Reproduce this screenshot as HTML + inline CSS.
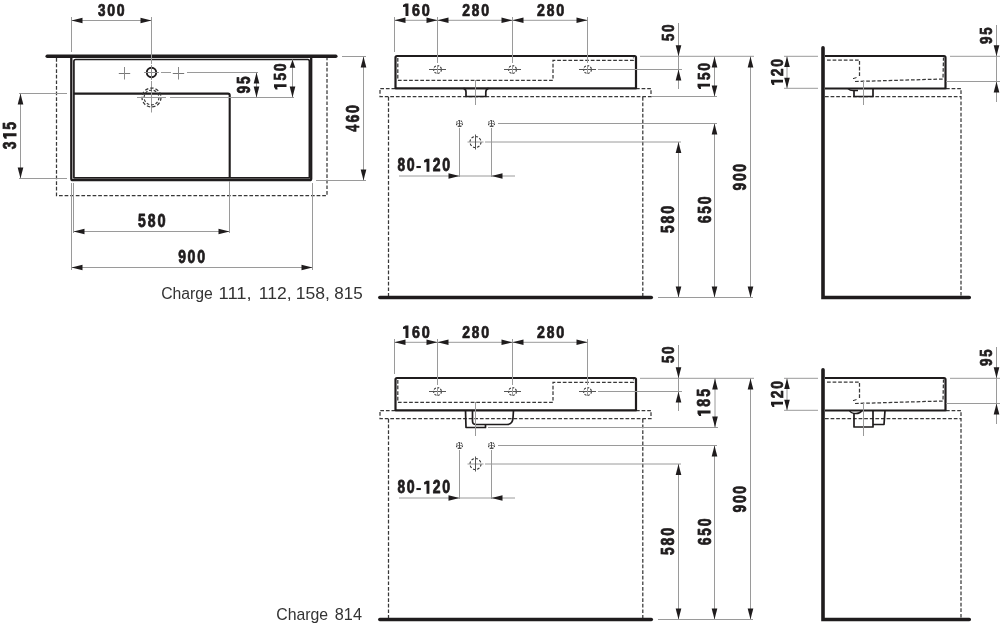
<!DOCTYPE html>
<html><head><meta charset="utf-8"><style>
html,body{margin:0;padding:0;background:#fff;}
body{width:1000px;height:632px;overflow:hidden;position:relative;}
svg{position:absolute;left:0;top:0;will-change:transform;}
.d{font-family:"Liberation Sans",sans-serif;font-weight:bold;font-size:18px;}
g.t{fill:#1f1c1d;}
.d{stroke:#1f1c1d;stroke-width:0.8px;stroke-linejoin:round;}
.c{font-family:"Liberation Sans",sans-serif;font-size:16px;fill:#333;}
</style></head><body>
<svg width="1000" height="632" viewBox="0 0 1000 632">
<path d="M56.5,58 L56.5,195.5 L327,195.5 L327,58" stroke="#383838" stroke-width="1.25" fill="none" stroke-linejoin="miter" stroke-linecap="butt" stroke-dasharray="3.7 1.9"/>
<line x1="47.2" y1="56.25" x2="335.8" y2="56.25" stroke="#1f1c1d" stroke-width="3.5" stroke-linecap="round"/>
<path d="M71.3,57 L71.3,178.8 Q71.3,180.2 72.8,180.2 L309.8,180.2 Q311.2,180.2 311.2,178.8 L311.2,57" stroke="#1f1c1d" stroke-width="2.3" fill="none" stroke-linejoin="round" stroke-linecap="butt"/>
<path d="M73.9,177.8 L73.9,61.3 Q73.9,59.5 75.7,59.5 L307.8,59.5 Q309.4,59.5 309.4,61.3 L309.4,177.8 Z" stroke="#1f1c1d" stroke-width="1.7" fill="none" stroke-linejoin="round" stroke-linecap="butt"/>
<path d="M73.9,93.6 L228,93.6 Q229.7,93.6 229.7,95.3 L229.7,177.8" stroke="#1f1c1d" stroke-width="2.1" fill="none" stroke-linejoin="round" stroke-linecap="butt"/>
<circle cx="151.5" cy="72.5" r="4.7" fill="none" stroke="#1f1c1d" stroke-width="1.9"/>
<line x1="144.2" y1="72.5" x2="158.8" y2="72.5" stroke="#888" stroke-width="1" stroke-linecap="butt"/>
<line x1="151.5" y1="65.2" x2="151.5" y2="79.8" stroke="#888" stroke-width="1" stroke-linecap="butt"/>
<line x1="118.8" y1="73.5" x2="130.2" y2="73.5" stroke="#777" stroke-width="1" stroke-linecap="butt"/>
<line x1="124.5" y1="67" x2="124.5" y2="79.5" stroke="#888" stroke-width="1" stroke-linecap="butt"/>
<line x1="172.8" y1="73.5" x2="184.2" y2="73.5" stroke="#777" stroke-width="1" stroke-linecap="butt"/>
<line x1="178.5" y1="67" x2="178.5" y2="79.5" stroke="#888" stroke-width="1" stroke-linecap="butt"/>
<line x1="161" y1="72.5" x2="171" y2="72.5" stroke="#9a9a9a" stroke-width="1" stroke-linecap="butt"/>
<line x1="187" y1="72.5" x2="258" y2="72.5" stroke="#9a9a9a" stroke-width="1" stroke-linecap="butt"/>
<line x1="151.5" y1="17" x2="151.5" y2="64" stroke="#9a9a9a" stroke-width="1" stroke-linecap="butt"/>
<line x1="151.5" y1="81" x2="151.5" y2="112.5" stroke="#9a9a9a" stroke-width="1" stroke-linecap="butt"/>
<circle cx="151.5" cy="97.5" r="9.5" fill="none" stroke="#383838" stroke-width="1.25" stroke-dasharray="3.4 2"/>
<circle cx="151.5" cy="97.5" r="7.4" fill="none" stroke="#383838" stroke-width="1.15" stroke-dasharray="2.8 1.8"/>
<line x1="137" y1="97.5" x2="166" y2="97.5" stroke="#9a9a9a" stroke-width="1" stroke-linecap="butt"/>
<line x1="170" y1="97.5" x2="294" y2="97.5" stroke="#9a9a9a" stroke-width="1" stroke-linecap="butt"/>
<line x1="71.5" y1="17" x2="71.5" y2="52" stroke="#9a9a9a" stroke-width="1" stroke-linecap="butt"/>
<line x1="71.5" y1="20.5" x2="151.5" y2="20.5" stroke="#9a9a9a" stroke-width="1" stroke-linecap="butt"/>
<polygon points="71.5,20.5 82.5,17.7 82.5,23.3" fill="#1f1c1d"/>
<polygon points="151.5,20.5 140.5,17.7 140.5,23.3" fill="#1f1c1d"/>
<g class="t" transform="matrix(0.9806 0 0 1 96.98 16)"><text transform="matrix(0.7629 0 0 0.9312 1.12 -0.48)" class="d">3</text><text transform="matrix(0.7982 0 0 0.9312 10.56 -0.48)" class="d">0</text><text transform="matrix(0.7982 0 0 0.9312 20.26 -0.48)" class="d">0</text></g>
<line x1="256.5" y1="72.5" x2="256.5" y2="97.5" stroke="#9a9a9a" stroke-width="1" stroke-linecap="butt"/>
<polygon points="256.5,72.5 253.7,83.5 259.3,83.5" fill="#1f1c1d"/>
<polygon points="256.5,97.5 253.7,86.5 259.3,86.5" fill="#1f1c1d"/>
<g class="t" transform="matrix(0 -0.9435 1 0 250.5 94.52)"><text transform="matrix(0.8184 0 0 0.971 0.96 -0.49)" class="d">9</text><text transform="matrix(0.797 0 0 0.971 11.12 -0.49)" class="d">5</text></g>
<line x1="292.5" y1="59.5" x2="292.5" y2="97.5" stroke="#9a9a9a" stroke-width="1" stroke-linecap="butt"/>
<polygon points="292.5,59.8 289.7,67.8 295.3,67.8" fill="#1f1c1d"/>
<polygon points="292.5,97.5 289.7,86.5 295.3,86.5" fill="#1f1c1d"/>
<g class="t" transform="matrix(0 -0.9862 1 0 286.5 91.18)"><polygon points="1.7,-10.93 4.2,-12.5 7.1,-12.5 7.1,0 4.2,0 4.2,-9.25 1.7,-8.96"/><text transform="matrix(0.7629 0 0 0.9312 10.71 -0.48)" class="d">5</text><text transform="matrix(0.7982 0 0 0.9312 20.26 -0.48)" class="d">0</text></g>
<line x1="342" y1="56.5" x2="366" y2="56.5" stroke="#9a9a9a" stroke-width="1" stroke-linecap="butt"/>
<line x1="316" y1="180.5" x2="366" y2="180.5" stroke="#9a9a9a" stroke-width="1" stroke-linecap="butt"/>
<line x1="363.5" y1="56.5" x2="363.5" y2="180.5" stroke="#9a9a9a" stroke-width="1" stroke-linecap="butt"/>
<polygon points="363.5,56.5 360.7,67.5 366.3,67.5" fill="#1f1c1d"/>
<polygon points="363.5,180.5 360.7,169.5 366.3,169.5" fill="#1f1c1d"/>
<g class="t" transform="matrix(0 -0.8916 1 0 359 132.82)"><text transform="matrix(0.7896 0 0 1.0347 1.33 -0.49)" class="d">4</text><text transform="matrix(0.8762 0 0 1.0347 11.67 -0.49)" class="d">6</text><text transform="matrix(0.891 0 0 1.0347 22.32 -0.49)" class="d">0</text></g>
<line x1="19" y1="93.5" x2="67" y2="93.5" stroke="#9a9a9a" stroke-width="1" stroke-linecap="butt"/>
<line x1="19" y1="178.5" x2="67" y2="178.5" stroke="#9a9a9a" stroke-width="1" stroke-linecap="butt"/>
<line x1="20.5" y1="93.5" x2="20.5" y2="178.5" stroke="#9a9a9a" stroke-width="1" stroke-linecap="butt"/>
<polygon points="20.5,93.5 17.7,104.5 23.3,104.5" fill="#1f1c1d"/>
<polygon points="20.5,178.5 17.7,167.5 23.3,167.5" fill="#1f1c1d"/>
<g class="t" transform="matrix(0 -0.9319 1 0 16.5 150.24)"><text transform="matrix(0.8311 0 0 1.0108 1.18 -0.49)" class="d">3</text><polygon points="12.31,-11.8 15.01,-13.5 18.14,-13.5 18.14,0 15.01,0 15.01,-9.99 12.31,-9.68"/><text transform="matrix(0.8311 0 0 1.0108 22.01 -0.49)" class="d">5</text></g>
<line x1="73.5" y1="183" x2="73.5" y2="233" stroke="#9a9a9a" stroke-width="1" stroke-linecap="butt"/>
<line x1="229.5" y1="181" x2="229.5" y2="233" stroke="#9a9a9a" stroke-width="1" stroke-linecap="butt"/>
<line x1="73.5" y1="231.5" x2="229.5" y2="231.5" stroke="#9a9a9a" stroke-width="1" stroke-linecap="butt"/>
<polygon points="73.5,231.5 84.5,228.7 84.5,234.3" fill="#1f1c1d"/>
<polygon points="229.5,231.5 218.5,228.7 218.5,234.3" fill="#1f1c1d"/>
<g class="t" transform="matrix(0.9713 0 0 1 136.95 227.3)"><text transform="matrix(0.797 0 0 0.971 1.03 -0.49)" class="d">5</text><text transform="matrix(0.8035 0 0 0.971 11.1 -0.49)" class="d">8</text><text transform="matrix(0.8339 0 0 0.971 21.05 -0.49)" class="d">0</text></g>
<line x1="71.5" y1="183" x2="71.5" y2="270" stroke="#9a9a9a" stroke-width="1" stroke-linecap="butt"/>
<line x1="312.5" y1="183" x2="312.5" y2="270" stroke="#9a9a9a" stroke-width="1" stroke-linecap="butt"/>
<line x1="71.5" y1="267.5" x2="312.5" y2="267.5" stroke="#9a9a9a" stroke-width="1" stroke-linecap="butt"/>
<polygon points="71.5,267.5 82.5,264.7 82.5,270.3" fill="#1f1c1d"/>
<polygon points="312.5,267.5 301.5,264.7 301.5,270.3" fill="#1f1c1d"/>
<g class="t" transform="matrix(0.9429 0 0 1 177.28 263.7)"><text transform="matrix(0.8184 0 0 0.971 0.96 -0.49)" class="d">9</text><text transform="matrix(0.8339 0 0 0.971 10.97 -0.49)" class="d">0</text><text transform="matrix(0.8339 0 0 0.971 21.05 -0.49)" class="d">0</text></g>
<g transform="translate(0,0)">
<path d="M388.5,96.5 L380,96.5 L380,88.5 L395,88.5" stroke="#383838" stroke-width="1.25" fill="none" stroke-linejoin="miter" stroke-linecap="butt" stroke-dasharray="3.7 1.9"/>
<path d="M636,88.5 L651,88.5 L651,96.5 L388.5,96.5" stroke="#383838" stroke-width="1.25" fill="none" stroke-linejoin="miter" stroke-linecap="butt" stroke-dasharray="3.7 1.9"/>
<line x1="388.5" y1="97" x2="388.5" y2="297" stroke="#383838" stroke-width="1.25" stroke-linecap="butt" stroke-dasharray="3.7 1.9"/>
<line x1="642.8" y1="97" x2="642.8" y2="297" stroke="#383838" stroke-width="1.25" stroke-linecap="butt" stroke-dasharray="3.7 1.9"/>
<line x1="379.8" y1="297.5" x2="651.3" y2="297.5" stroke="#1f1c1d" stroke-width="3.5" stroke-linecap="round"/>
<path d="M395.5,88.3 L395.5,57.5 Q395.5,56 397,56 L634.5,56 Q636,56 636,57.5 L636,88.3 Z" stroke="#1f1c1d" stroke-width="2.2" fill="none" stroke-linejoin="round" stroke-linecap="butt"/>
<path d="M397.8,58 L397.8,80.3 L553,80.3 L553,60.4 L633.5,60.4 L633.5,57.5" stroke="#383838" stroke-width="1.25" fill="none" stroke-linejoin="miter" stroke-linecap="butt" stroke-dasharray="3.7 1.9"/>
<circle cx="437.5" cy="69.5" r="3.9" fill="none" stroke="#333" stroke-width="1.1" stroke-dasharray="2.2 1.3"/>
<line x1="429" y1="69.5" x2="446" y2="69.5" stroke="#555" stroke-width="1" stroke-linecap="butt"/>
<line x1="437.5" y1="65" x2="437.5" y2="74" stroke="#9a9a9a" stroke-width="1" stroke-linecap="butt"/>
<circle cx="512.5" cy="69.5" r="3.9" fill="none" stroke="#333" stroke-width="1.1" stroke-dasharray="2.2 1.3"/>
<line x1="504" y1="69.5" x2="521" y2="69.5" stroke="#555" stroke-width="1" stroke-linecap="butt"/>
<line x1="512.5" y1="65" x2="512.5" y2="74" stroke="#9a9a9a" stroke-width="1" stroke-linecap="butt"/>
<circle cx="587.5" cy="69.5" r="3.9" fill="none" stroke="#333" stroke-width="1.1" stroke-dasharray="2.2 1.3"/>
<line x1="579" y1="69.5" x2="596" y2="69.5" stroke="#555" stroke-width="1" stroke-linecap="butt"/>
<line x1="587.5" y1="65" x2="587.5" y2="74" stroke="#9a9a9a" stroke-width="1" stroke-linecap="butt"/>
<line x1="394.5" y1="17" x2="394.5" y2="52" stroke="#9a9a9a" stroke-width="1" stroke-linecap="butt"/>
<line x1="437.5" y1="17" x2="437.5" y2="63" stroke="#9a9a9a" stroke-width="1" stroke-linecap="butt"/>
<line x1="512.5" y1="17" x2="512.5" y2="63" stroke="#9a9a9a" stroke-width="1" stroke-linecap="butt"/>
<line x1="587.5" y1="17" x2="587.5" y2="63" stroke="#9a9a9a" stroke-width="1" stroke-linecap="butt"/>
<line x1="394.5" y1="20.3" x2="587.5" y2="20.3" stroke="#9a9a9a" stroke-width="1" stroke-linecap="butt"/>
<polygon points="394.5,20.3 405.5,17.5 405.5,23.1" fill="#1f1c1d"/>
<polygon points="437.5,20.3 426.5,17.5 426.5,23.1" fill="#1f1c1d"/>
<polygon points="437.5,20.3 448.5,17.5 448.5,23.1" fill="#1f1c1d"/>
<polygon points="512.5,20.3 501.5,17.5 501.5,23.1" fill="#1f1c1d"/>
<polygon points="512.5,20.3 523.5,17.5 523.5,23.1" fill="#1f1c1d"/>
<polygon points="587.5,20.3 576.5,17.5 576.5,23.1" fill="#1f1c1d"/>
<g class="t" transform="matrix(1.0052 0 0 1 401.29 16)"><polygon points="1.7,-10.93 4.2,-12.5 7.1,-12.5 7.1,0 4.2,0 4.2,-9.25 1.7,-8.96"/><text transform="matrix(0.785 0 0 0.9312 10.61 -0.48)" class="d">6</text><text transform="matrix(0.7982 0 0 0.9312 20.26 -0.48)" class="d">0</text></g>
<g class="t" transform="matrix(0.9843 0 0 1 461.28 16)"><text transform="matrix(0.7883 0 0 0.9312 0.94 -0.48)" class="d">2</text><text transform="matrix(0.7691 0 0 0.9312 10.69 -0.48)" class="d">8</text><text transform="matrix(0.7982 0 0 0.9312 20.26 -0.48)" class="d">0</text></g>
<g class="t" transform="matrix(0.9991 0 0 1 535.96 16)"><text transform="matrix(0.7883 0 0 0.9312 0.94 -0.48)" class="d">2</text><text transform="matrix(0.7691 0 0 0.9312 10.69 -0.48)" class="d">8</text><text transform="matrix(0.7982 0 0 0.9312 20.26 -0.48)" class="d">0</text></g>
<path d="M463.5,88.3 Q466,88.8 466,92 L466,96.5 L485.8,96.5 L485.8,92 Q486,88.8 488.5,88.3" stroke="#1f1c1d" stroke-width="1.7" fill="none" stroke-linejoin="round" stroke-linecap="butt"/>
<line x1="475.5" y1="80" x2="475.5" y2="105" stroke="#9a9a9a" stroke-width="1" stroke-linecap="butt"/>
<circle cx="459.5" cy="123.5" r="3" fill="none" stroke="#333" stroke-width="1.1" stroke-dasharray="1.5 1"/>
<line x1="456" y1="123.5" x2="463" y2="123.5" stroke="#9a9a9a" stroke-width="1" stroke-linecap="butt"/>
<line x1="459.5" y1="120" x2="459.5" y2="127" stroke="#555" stroke-width="1" stroke-linecap="butt"/>
<circle cx="491.5" cy="123.5" r="3" fill="none" stroke="#333" stroke-width="1.1" stroke-dasharray="1.5 1"/>
<line x1="488" y1="123.5" x2="495" y2="123.5" stroke="#9a9a9a" stroke-width="1" stroke-linecap="butt"/>
<line x1="491.5" y1="120" x2="491.5" y2="127" stroke="#555" stroke-width="1" stroke-linecap="butt"/>
<circle cx="475.5" cy="142" r="5.5" fill="none" stroke="#333" stroke-width="1.1" stroke-dasharray="2.6 1.6"/>
<line x1="467.5" y1="142" x2="483.5" y2="142" stroke="#9a9a9a" stroke-width="1" stroke-linecap="butt"/>
<line x1="475.5" y1="134.5" x2="475.5" y2="149.5" stroke="#555" stroke-width="1" stroke-linecap="butt"/>
<line x1="459.5" y1="128" x2="459.5" y2="177" stroke="#9a9a9a" stroke-width="1" stroke-linecap="butt"/>
<line x1="491.5" y1="128" x2="491.5" y2="177" stroke="#9a9a9a" stroke-width="1" stroke-linecap="butt"/>
<line x1="498" y1="123.5" x2="717" y2="123.5" stroke="#9a9a9a" stroke-width="1" stroke-linecap="butt"/>
<line x1="485" y1="142" x2="681" y2="142" stroke="#9a9a9a" stroke-width="1" stroke-linecap="butt"/>
<line x1="399" y1="176" x2="515" y2="176" stroke="#9a9a9a" stroke-width="1" stroke-linecap="butt"/>
<polygon points="459.5,176 448.5,173.2 448.5,178.8" fill="#1f1c1d"/>
<polygon points="491.5,176 502.5,173.2 502.5,178.8" fill="#1f1c1d"/>
<g class="t" transform="matrix(0.9449 0 0 1 396.48 171.7)"><text transform="matrix(0.8035 0 0 0.971 1.02 -0.49)" class="d">8</text><text transform="matrix(0.8339 0 0 0.971 10.97 -0.49)" class="d">0</text><rect x="21.11" y="-5.72" width="4.68" height="2.08"/><polygon points="29.22,-11.36 31.82,-13 34.84,-13 34.84,0 31.82,0 31.82,-9.62 29.22,-9.32"/><text transform="matrix(0.8235 0 0 0.971 38.5 -0.49)" class="d">2</text><text transform="matrix(0.8339 0 0 0.971 48.51 -0.49)" class="d">0</text></g>
<line x1="640" y1="56.3" x2="754" y2="56.3" stroke="#9a9a9a" stroke-width="1" stroke-linecap="butt"/>
<line x1="598" y1="69.5" x2="682" y2="69.5" stroke="#9a9a9a" stroke-width="1" stroke-linecap="butt"/>
<line x1="678.5" y1="23" x2="678.5" y2="89" stroke="#9a9a9a" stroke-width="1" stroke-linecap="butt"/>
<polygon points="678.5,56.3 675.7,45.3 681.3,45.3" fill="#1f1c1d"/>
<polygon points="678.5,69.5 675.7,80.5 681.3,80.5" fill="#1f1c1d"/>
<g class="t" transform="matrix(0 -0.9524 1 0 674.5 41.99)"><text transform="matrix(0.7629 0 0 0.9312 1.01 -0.48)" class="d">5</text><text transform="matrix(0.7982 0 0 0.9312 10.56 -0.48)" class="d">0</text></g>
<line x1="652" y1="96.5" x2="717" y2="96.5" stroke="#9a9a9a" stroke-width="1" stroke-linecap="butt"/>
<line x1="714.5" y1="56.3" x2="714.5" y2="96.5" stroke="#9a9a9a" stroke-width="1" stroke-linecap="butt"/>
<polygon points="714.5,56.5 711.7,67.5 717.3,67.5" fill="#1f1c1d"/>
<polygon points="714.5,96.5 711.7,85.5 717.3,85.5" fill="#1f1c1d"/>
<g class="t" transform="matrix(0 -0.9862 1 0 710 90.68)"><polygon points="1.7,-10.93 4.2,-12.5 7.1,-12.5 7.1,0 4.2,0 4.2,-9.25 1.7,-8.96"/><text transform="matrix(0.7629 0 0 0.9312 10.71 -0.48)" class="d">5</text><text transform="matrix(0.7982 0 0 0.9312 20.26 -0.48)" class="d">0</text></g>
<line x1="750.5" y1="56.3" x2="750.5" y2="297.5" stroke="#9a9a9a" stroke-width="1" stroke-linecap="butt"/>
<polygon points="750.5,56.5 747.7,67.5 753.3,67.5" fill="#1f1c1d"/>
<polygon points="750.5,297.5 747.7,286.5 753.3,286.5" fill="#1f1c1d"/>
<g class="t" transform="matrix(0 -0.8945 1 0 746.2 191.31)"><text transform="matrix(0.8604 0 0 1.0188 0.99 -0.49)" class="d">9</text><text transform="matrix(0.8767 0 0 1.0188 11.45 -0.49)" class="d">0</text><text transform="matrix(0.8767 0 0 1.0188 22 -0.49)" class="d">0</text></g>
<line x1="678.5" y1="142" x2="678.5" y2="297.5" stroke="#9a9a9a" stroke-width="1" stroke-linecap="butt"/>
<polygon points="678.5,142 675.7,153 681.3,153" fill="#1f1c1d"/>
<polygon points="678.5,297.5 675.7,286.5 681.3,286.5" fill="#1f1c1d"/>
<g class="t" transform="matrix(0 -0.9116 1 0 674.5 234.04)"><text transform="matrix(0.8447 0 0 1.0267 1.07 -0.49)" class="d">5</text><text transform="matrix(0.8516 0 0 1.0267 11.68 -0.49)" class="d">8</text><text transform="matrix(0.8839 0 0 1.0267 22.16 -0.49)" class="d">0</text></g>
<line x1="714.5" y1="123.5" x2="714.5" y2="297.5" stroke="#9a9a9a" stroke-width="1" stroke-linecap="butt"/>
<polygon points="714.5,123.5 711.7,134.5 717.3,134.5" fill="#1f1c1d"/>
<polygon points="714.5,297.5 711.7,286.5 717.3,286.5" fill="#1f1c1d"/>
<g class="t" transform="matrix(0 -0.8689 1 0 711 224.01)"><text transform="matrix(0.8903 0 0 1.0506 0.97 -0.49)" class="d">6</text><text transform="matrix(0.8652 0 0 1.0506 11.94 -0.49)" class="d">5</text><text transform="matrix(0.9053 0 0 1.0506 22.64 -0.49)" class="d">0</text></g>
<line x1="658" y1="297.5" x2="753" y2="297.5" stroke="#9a9a9a" stroke-width="1" stroke-linecap="butt"/>
</g>
<g transform="translate(0,0)">
<path d="M946,88.5 L961,88.5 L961,297" stroke="#383838" stroke-width="1.25" fill="none" stroke-linejoin="miter" stroke-linecap="butt" stroke-dasharray="3.7 1.9"/>
<line x1="825" y1="96.5" x2="961" y2="96.5" stroke="#383838" stroke-width="1.25" stroke-linecap="butt" stroke-dasharray="3.7 1.9"/>
<path d="M823,47.7 L823,297.5 L969.3,297.5" stroke="#1f1c1d" stroke-width="3.6" fill="none" stroke-linejoin="miter" stroke-linecap="round"/>
<path d="M825,56 L944,56 Q945.5,56 945.5,57.5 L945.5,88.5 L825,88.5" stroke="#1f1c1d" stroke-width="2.2" fill="none" stroke-linejoin="round" stroke-linecap="butt"/>
<path d="M827,60 L859.5,60 L859.5,78" stroke="#383838" stroke-width="1.25" fill="none" stroke-linejoin="miter" stroke-linecap="butt" stroke-dasharray="3.7 1.9"/>
<line x1="853" y1="78.6" x2="856.5" y2="77.6" stroke="#2a2a2a" stroke-width="1" stroke-linecap="butt"/>
<path d="M855,81.5 L943,79 L943.5,57.5" stroke="#383838" stroke-width="1.25" fill="none" stroke-linejoin="miter" stroke-linecap="butt" stroke-dasharray="3.7 1.9"/>
<line x1="946" y1="81.5" x2="1000" y2="81.5" stroke="#9a9a9a" stroke-width="1" stroke-linecap="butt"/>
<path d="M848,88.5 Q850,90.6 853,90.6 L858,90.6" stroke="#1f1c1d" stroke-width="1.5" fill="none" stroke-linejoin="round" stroke-linecap="butt"/>
<path d="M854,90.5 L854,96.5 L873,96.5 L873,88.5" stroke="#1f1c1d" stroke-width="1.7" fill="none" stroke-linejoin="round" stroke-linecap="butt"/>
<line x1="863.5" y1="80" x2="863.5" y2="105" stroke="#9a9a9a" stroke-width="1" stroke-linecap="butt"/>
<line x1="784" y1="56.3" x2="818" y2="56.3" stroke="#9a9a9a" stroke-width="1" stroke-linecap="butt"/>
<line x1="784" y1="88.3" x2="818" y2="88.3" stroke="#9a9a9a" stroke-width="1" stroke-linecap="butt"/>
<line x1="787" y1="56.3" x2="787" y2="88.3" stroke="#9a9a9a" stroke-width="1" stroke-linecap="butt"/>
<polygon points="787,56.5 784.2,67 789.8,67" fill="#1f1c1d"/>
<polygon points="787,88.3 784.2,77.8 789.8,77.8" fill="#1f1c1d"/>
<g class="t" transform="matrix(0 -1.0273 1 0 783 86.68)"><polygon points="1.63,-10.49 4.03,-12 6.82,-12 6.82,0 4.03,0 4.03,-8.88 1.63,-8.6"/><text transform="matrix(0.7531 0 0 0.8914 10.23 -0.48)" class="d">2</text><text transform="matrix(0.7626 0 0 0.8914 19.47 -0.48)" class="d">0</text></g>
<line x1="950" y1="56.3" x2="1000" y2="56.3" stroke="#9a9a9a" stroke-width="1" stroke-linecap="butt"/>
<line x1="996.5" y1="25" x2="996.5" y2="102" stroke="#9a9a9a" stroke-width="1" stroke-linecap="butt"/>
<polygon points="996.5,56.3 993.7,45.3 999.3,45.3" fill="#1f1c1d"/>
<polygon points="996.5,81.5 993.7,92.5 999.3,92.5" fill="#1f1c1d"/>
<g class="t" transform="matrix(0 -0.9582 1 0 992 44.99)"><text transform="matrix(0.7834 0 0 0.9312 0.94 -0.48)" class="d">9</text><text transform="matrix(0.7629 0 0 0.9312 10.71 -0.48)" class="d">5</text></g>
</g>
<g transform="translate(0,322)">
<path d="M388.5,96.5 L380,96.5 L380,88.5 L395,88.5" stroke="#383838" stroke-width="1.25" fill="none" stroke-linejoin="miter" stroke-linecap="butt" stroke-dasharray="3.7 1.9"/>
<path d="M636,88.5 L651,88.5 L651,96.5 L388.5,96.5" stroke="#383838" stroke-width="1.25" fill="none" stroke-linejoin="miter" stroke-linecap="butt" stroke-dasharray="3.7 1.9"/>
<line x1="388.5" y1="97" x2="388.5" y2="297" stroke="#383838" stroke-width="1.25" stroke-linecap="butt" stroke-dasharray="3.7 1.9"/>
<line x1="642.8" y1="97" x2="642.8" y2="297" stroke="#383838" stroke-width="1.25" stroke-linecap="butt" stroke-dasharray="3.7 1.9"/>
<line x1="379.8" y1="297.5" x2="651.3" y2="297.5" stroke="#1f1c1d" stroke-width="3.5" stroke-linecap="round"/>
<path d="M395.5,88.3 L395.5,57.5 Q395.5,56 397,56 L634.5,56 Q636,56 636,57.5 L636,88.3 Z" stroke="#1f1c1d" stroke-width="2.2" fill="none" stroke-linejoin="round" stroke-linecap="butt"/>
<path d="M397.8,58 L397.8,80.3 L553,80.3 L553,60.4 L633.5,60.4 L633.5,57.5" stroke="#383838" stroke-width="1.25" fill="none" stroke-linejoin="miter" stroke-linecap="butt" stroke-dasharray="3.7 1.9"/>
<circle cx="437.5" cy="69.5" r="3.9" fill="none" stroke="#333" stroke-width="1.1" stroke-dasharray="2.2 1.3"/>
<line x1="429" y1="69.5" x2="446" y2="69.5" stroke="#555" stroke-width="1" stroke-linecap="butt"/>
<line x1="437.5" y1="65" x2="437.5" y2="74" stroke="#9a9a9a" stroke-width="1" stroke-linecap="butt"/>
<circle cx="512.5" cy="69.5" r="3.9" fill="none" stroke="#333" stroke-width="1.1" stroke-dasharray="2.2 1.3"/>
<line x1="504" y1="69.5" x2="521" y2="69.5" stroke="#555" stroke-width="1" stroke-linecap="butt"/>
<line x1="512.5" y1="65" x2="512.5" y2="74" stroke="#9a9a9a" stroke-width="1" stroke-linecap="butt"/>
<circle cx="587.5" cy="69.5" r="3.9" fill="none" stroke="#333" stroke-width="1.1" stroke-dasharray="2.2 1.3"/>
<line x1="579" y1="69.5" x2="596" y2="69.5" stroke="#555" stroke-width="1" stroke-linecap="butt"/>
<line x1="587.5" y1="65" x2="587.5" y2="74" stroke="#9a9a9a" stroke-width="1" stroke-linecap="butt"/>
<line x1="394.5" y1="17" x2="394.5" y2="52" stroke="#9a9a9a" stroke-width="1" stroke-linecap="butt"/>
<line x1="437.5" y1="17" x2="437.5" y2="63" stroke="#9a9a9a" stroke-width="1" stroke-linecap="butt"/>
<line x1="512.5" y1="17" x2="512.5" y2="63" stroke="#9a9a9a" stroke-width="1" stroke-linecap="butt"/>
<line x1="587.5" y1="17" x2="587.5" y2="63" stroke="#9a9a9a" stroke-width="1" stroke-linecap="butt"/>
<line x1="394.5" y1="20.3" x2="587.5" y2="20.3" stroke="#9a9a9a" stroke-width="1" stroke-linecap="butt"/>
<polygon points="394.5,20.3 405.5,17.5 405.5,23.1" fill="#1f1c1d"/>
<polygon points="437.5,20.3 426.5,17.5 426.5,23.1" fill="#1f1c1d"/>
<polygon points="437.5,20.3 448.5,17.5 448.5,23.1" fill="#1f1c1d"/>
<polygon points="512.5,20.3 501.5,17.5 501.5,23.1" fill="#1f1c1d"/>
<polygon points="512.5,20.3 523.5,17.5 523.5,23.1" fill="#1f1c1d"/>
<polygon points="587.5,20.3 576.5,17.5 576.5,23.1" fill="#1f1c1d"/>
<g class="t" transform="matrix(1.0052 0 0 1 401.29 16)"><polygon points="1.7,-10.93 4.2,-12.5 7.1,-12.5 7.1,0 4.2,0 4.2,-9.25 1.7,-8.96"/><text transform="matrix(0.785 0 0 0.9312 10.61 -0.48)" class="d">6</text><text transform="matrix(0.7982 0 0 0.9312 20.26 -0.48)" class="d">0</text></g>
<g class="t" transform="matrix(0.9843 0 0 1 461.28 16)"><text transform="matrix(0.7883 0 0 0.9312 0.94 -0.48)" class="d">2</text><text transform="matrix(0.7691 0 0 0.9312 10.69 -0.48)" class="d">8</text><text transform="matrix(0.7982 0 0 0.9312 20.26 -0.48)" class="d">0</text></g>
<g class="t" transform="matrix(0.9991 0 0 1 535.96 16)"><text transform="matrix(0.7883 0 0 0.9312 0.94 -0.48)" class="d">2</text><text transform="matrix(0.7691 0 0 0.9312 10.69 -0.48)" class="d">8</text><text transform="matrix(0.7982 0 0 0.9312 20.26 -0.48)" class="d">0</text></g>
<path d="M465.5,88.3 L466,105.5 L485.5,105.5 L485.5,102.5" stroke="#1f1c1d" stroke-width="1.7" fill="none" stroke-linejoin="round" stroke-linecap="butt"/>
<path d="M472.5,88.3 L472.5,99 Q472.5,102.5 476,102.5 L507,102.5 Q512.5,102.5 513,96 L513.5,88.3" stroke="#1f1c1d" stroke-width="1.7" fill="none" stroke-linejoin="round" stroke-linecap="butt"/>
<line x1="475.5" y1="80" x2="475.5" y2="114" stroke="#9a9a9a" stroke-width="1" stroke-linecap="butt"/>
<circle cx="459.5" cy="123.5" r="3" fill="none" stroke="#333" stroke-width="1.1" stroke-dasharray="1.5 1"/>
<line x1="456" y1="123.5" x2="463" y2="123.5" stroke="#9a9a9a" stroke-width="1" stroke-linecap="butt"/>
<line x1="459.5" y1="120" x2="459.5" y2="127" stroke="#555" stroke-width="1" stroke-linecap="butt"/>
<circle cx="491.5" cy="123.5" r="3" fill="none" stroke="#333" stroke-width="1.1" stroke-dasharray="1.5 1"/>
<line x1="488" y1="123.5" x2="495" y2="123.5" stroke="#9a9a9a" stroke-width="1" stroke-linecap="butt"/>
<line x1="491.5" y1="120" x2="491.5" y2="127" stroke="#555" stroke-width="1" stroke-linecap="butt"/>
<circle cx="475.5" cy="142" r="5.5" fill="none" stroke="#333" stroke-width="1.1" stroke-dasharray="2.6 1.6"/>
<line x1="467.5" y1="142" x2="483.5" y2="142" stroke="#9a9a9a" stroke-width="1" stroke-linecap="butt"/>
<line x1="475.5" y1="134.5" x2="475.5" y2="149.5" stroke="#555" stroke-width="1" stroke-linecap="butt"/>
<line x1="459.5" y1="128" x2="459.5" y2="177" stroke="#9a9a9a" stroke-width="1" stroke-linecap="butt"/>
<line x1="491.5" y1="128" x2="491.5" y2="177" stroke="#9a9a9a" stroke-width="1" stroke-linecap="butt"/>
<line x1="498" y1="123.5" x2="717" y2="123.5" stroke="#9a9a9a" stroke-width="1" stroke-linecap="butt"/>
<line x1="485" y1="142" x2="681" y2="142" stroke="#9a9a9a" stroke-width="1" stroke-linecap="butt"/>
<line x1="399" y1="176" x2="515" y2="176" stroke="#9a9a9a" stroke-width="1" stroke-linecap="butt"/>
<polygon points="459.5,176 448.5,173.2 448.5,178.8" fill="#1f1c1d"/>
<polygon points="491.5,176 502.5,173.2 502.5,178.8" fill="#1f1c1d"/>
<g class="t" transform="matrix(0.9449 0 0 1 396.48 171.7)"><text transform="matrix(0.8035 0 0 0.971 1.02 -0.49)" class="d">8</text><text transform="matrix(0.8339 0 0 0.971 10.97 -0.49)" class="d">0</text><rect x="21.11" y="-5.72" width="4.68" height="2.08"/><polygon points="29.22,-11.36 31.82,-13 34.84,-13 34.84,0 31.82,0 31.82,-9.62 29.22,-9.32"/><text transform="matrix(0.8235 0 0 0.971 38.5 -0.49)" class="d">2</text><text transform="matrix(0.8339 0 0 0.971 48.51 -0.49)" class="d">0</text></g>
<line x1="640" y1="56.3" x2="754" y2="56.3" stroke="#9a9a9a" stroke-width="1" stroke-linecap="butt"/>
<line x1="598" y1="69.5" x2="682" y2="69.5" stroke="#9a9a9a" stroke-width="1" stroke-linecap="butt"/>
<line x1="678.5" y1="23" x2="678.5" y2="89" stroke="#9a9a9a" stroke-width="1" stroke-linecap="butt"/>
<polygon points="678.5,56.3 675.7,45.3 681.3,45.3" fill="#1f1c1d"/>
<polygon points="678.5,69.5 675.7,80.5 681.3,80.5" fill="#1f1c1d"/>
<g class="t" transform="matrix(0 -0.9524 1 0 674.5 41.99)"><text transform="matrix(0.7629 0 0 0.9312 1.01 -0.48)" class="d">5</text><text transform="matrix(0.7982 0 0 0.9312 10.56 -0.48)" class="d">0</text></g>
<line x1="488" y1="105.5" x2="718" y2="105.5" stroke="#9a9a9a" stroke-width="1" stroke-linecap="butt"/>
<line x1="715" y1="56.3" x2="715" y2="105.5" stroke="#9a9a9a" stroke-width="1" stroke-linecap="butt"/>
<polygon points="715,56.5 712.2,67.5 717.8,67.5" fill="#1f1c1d"/>
<polygon points="715,105.5 712.2,94.5 717.8,94.5" fill="#1f1c1d"/>
<g class="t" transform="matrix(0 -0.9848 1 0 710.5 95.74)"><polygon points="1.77,-11.36 4.37,-13 7.38,-13 7.38,0 4.37,0 4.37,-9.62 1.77,-9.32"/><text transform="matrix(0.8035 0 0 0.971 11.1 -0.49)" class="d">8</text><text transform="matrix(0.797 0 0 0.971 21.21 -0.49)" class="d">5</text></g>
<line x1="750.5" y1="56.3" x2="750.5" y2="297.5" stroke="#9a9a9a" stroke-width="1" stroke-linecap="butt"/>
<polygon points="750.5,56.5 747.7,67.5 753.3,67.5" fill="#1f1c1d"/>
<polygon points="750.5,297.5 747.7,286.5 753.3,286.5" fill="#1f1c1d"/>
<g class="t" transform="matrix(0 -0.8945 1 0 746.2 191.31)"><text transform="matrix(0.8604 0 0 1.0188 0.99 -0.49)" class="d">9</text><text transform="matrix(0.8767 0 0 1.0188 11.45 -0.49)" class="d">0</text><text transform="matrix(0.8767 0 0 1.0188 22 -0.49)" class="d">0</text></g>
<line x1="678.5" y1="142" x2="678.5" y2="297.5" stroke="#9a9a9a" stroke-width="1" stroke-linecap="butt"/>
<polygon points="678.5,142 675.7,153 681.3,153" fill="#1f1c1d"/>
<polygon points="678.5,297.5 675.7,286.5 681.3,286.5" fill="#1f1c1d"/>
<g class="t" transform="matrix(0 -0.9116 1 0 674.5 234.04)"><text transform="matrix(0.8447 0 0 1.0267 1.07 -0.49)" class="d">5</text><text transform="matrix(0.8516 0 0 1.0267 11.68 -0.49)" class="d">8</text><text transform="matrix(0.8839 0 0 1.0267 22.16 -0.49)" class="d">0</text></g>
<line x1="714.5" y1="123.5" x2="714.5" y2="297.5" stroke="#9a9a9a" stroke-width="1" stroke-linecap="butt"/>
<polygon points="714.5,123.5 711.7,134.5 717.3,134.5" fill="#1f1c1d"/>
<polygon points="714.5,297.5 711.7,286.5 717.3,286.5" fill="#1f1c1d"/>
<g class="t" transform="matrix(0 -0.8689 1 0 711 224.01)"><text transform="matrix(0.8903 0 0 1.0506 0.97 -0.49)" class="d">6</text><text transform="matrix(0.8652 0 0 1.0506 11.94 -0.49)" class="d">5</text><text transform="matrix(0.9053 0 0 1.0506 22.64 -0.49)" class="d">0</text></g>
<line x1="658" y1="297.5" x2="753" y2="297.5" stroke="#9a9a9a" stroke-width="1" stroke-linecap="butt"/>
</g>
<g transform="translate(0,322)">
<path d="M946,88.5 L961,88.5 L961,297" stroke="#383838" stroke-width="1.25" fill="none" stroke-linejoin="miter" stroke-linecap="butt" stroke-dasharray="3.7 1.9"/>
<line x1="825" y1="96.5" x2="961" y2="96.5" stroke="#383838" stroke-width="1.25" stroke-linecap="butt" stroke-dasharray="3.7 1.9"/>
<path d="M823,47.7 L823,297.5 L969.3,297.5" stroke="#1f1c1d" stroke-width="3.6" fill="none" stroke-linejoin="miter" stroke-linecap="round"/>
<path d="M825,56 L944,56 Q945.5,56 945.5,57.5 L945.5,88.5 L825,88.5" stroke="#1f1c1d" stroke-width="2.2" fill="none" stroke-linejoin="round" stroke-linecap="butt"/>
<path d="M827,60 L859.5,60 L859.5,78" stroke="#383838" stroke-width="1.25" fill="none" stroke-linejoin="miter" stroke-linecap="butt" stroke-dasharray="3.7 1.9"/>
<line x1="853" y1="78.6" x2="856.5" y2="77.6" stroke="#2a2a2a" stroke-width="1" stroke-linecap="butt"/>
<path d="M855,81.5 L943,79 L943.5,57.5" stroke="#383838" stroke-width="1.25" fill="none" stroke-linejoin="miter" stroke-linecap="butt" stroke-dasharray="3.7 1.9"/>
<line x1="946" y1="81.5" x2="1000" y2="81.5" stroke="#9a9a9a" stroke-width="1" stroke-linecap="butt"/>
<path d="M849.5,88.5 Q851,91.5 856,91.5 Q860,91.5 862,88.5" stroke="#1f1c1d" stroke-width="1.5" fill="none" stroke-linejoin="round" stroke-linecap="butt"/>
<path d="M854,91 L854,105 L873,105 L873,88.5" stroke="#1f1c1d" stroke-width="1.7" fill="none" stroke-linejoin="round" stroke-linecap="butt"/>
<path d="M873,102.5 L884,102.5 L885,88.5" stroke="#1f1c1d" stroke-width="1.7" fill="none" stroke-linejoin="round" stroke-linecap="butt"/>
<line x1="863.5" y1="80" x2="863.5" y2="114" stroke="#9a9a9a" stroke-width="1" stroke-linecap="butt"/>
<line x1="784" y1="56.3" x2="818" y2="56.3" stroke="#9a9a9a" stroke-width="1" stroke-linecap="butt"/>
<line x1="784" y1="88.3" x2="818" y2="88.3" stroke="#9a9a9a" stroke-width="1" stroke-linecap="butt"/>
<line x1="787" y1="56.3" x2="787" y2="88.3" stroke="#9a9a9a" stroke-width="1" stroke-linecap="butt"/>
<polygon points="787,56.5 784.2,67 789.8,67" fill="#1f1c1d"/>
<polygon points="787,88.3 784.2,77.8 789.8,77.8" fill="#1f1c1d"/>
<g class="t" transform="matrix(0 -1.0273 1 0 783 86.68)"><polygon points="1.63,-10.49 4.03,-12 6.82,-12 6.82,0 4.03,0 4.03,-8.88 1.63,-8.6"/><text transform="matrix(0.7531 0 0 0.8914 10.23 -0.48)" class="d">2</text><text transform="matrix(0.7626 0 0 0.8914 19.47 -0.48)" class="d">0</text></g>
<line x1="950" y1="56.3" x2="1000" y2="56.3" stroke="#9a9a9a" stroke-width="1" stroke-linecap="butt"/>
<line x1="996.5" y1="25" x2="996.5" y2="102" stroke="#9a9a9a" stroke-width="1" stroke-linecap="butt"/>
<polygon points="996.5,56.3 993.7,45.3 999.3,45.3" fill="#1f1c1d"/>
<polygon points="996.5,81.5 993.7,92.5 999.3,92.5" fill="#1f1c1d"/>
<g class="t" transform="matrix(0 -0.9582 1 0 992 44.99)"><text transform="matrix(0.7834 0 0 0.9312 0.94 -0.48)" class="d">9</text><text transform="matrix(0.7629 0 0 0.9312 10.71 -0.48)" class="d">5</text></g>
</g>
<text class="c" transform="matrix(0.9851 0 0 1 161.2 298.6)">Charge</text>
<text class="c" transform="matrix(1.149 0 0 1 218.6 298.6)">111,</text>
<text class="c" transform="matrix(1.0989 0 0 1 258.66 298.6)">112,</text>
<text class="c" transform="matrix(1.0986 0 0 1 295.66 298.6)">158,</text>
<text class="c" transform="matrix(1.0659 0 0 1 334.25 298.6)">815</text>
<text class="c" transform="matrix(0.991 0 0 1 276.2 620.4)">Charge</text>
<text class="c" transform="matrix(1.0184 0 0 1 334.79 620.4)">814</text>

</svg>
</body></html>
